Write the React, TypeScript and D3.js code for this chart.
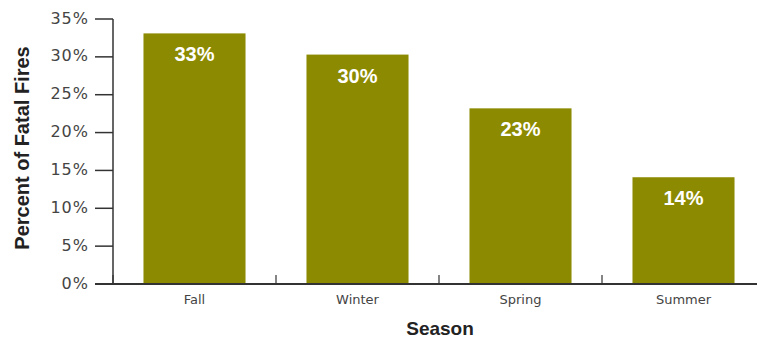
import React from "react";
import * as d3 from "d3";

const categories = ["Fall", "Winter", "Spring", "Summer"];
const values = [33.1, 30.3, 23.2, 14.1];
const valueLabels = ["33%", "30%", "23%", "14%"];
const yTicks = [0, 5, 10, 15, 20, 25, 30, 35];

const W = 757;
const H = 339;

export default function App() {
  const x = d3
    .scaleBand<string>()
    .domain(categories)
    .range([113, 765])
    .paddingInner(0.374)
    .paddingOuter(0.187);
  const y = d3.scaleLinear().domain([0, 35]).range([284, 19]);
  const step = x.step();
  const boundaries = categories.map((_, i) => 113 + i * step);

  return (
    <svg
      width={W}
      height={H}
      style={{ position: "absolute", left: 0, top: 0, background: "#fff" }}
    >
      {categories.map((c, i) => (
        <rect
          key={c}
          x={x(c)}
          y={y(values[i])}
          width={x.bandwidth()}
          height={y(0) - y(values[i])}
          fill="#8C8A00"
        />
      ))}
      {categories.map((c, i) => (
        <text
          key={"v" + c}
          x={(x(c) as number) + x.bandwidth() / 2}
          y={y(values[i]) + 28}
          textAnchor="middle"
          fill="#fff"
          fontFamily="Liberation Sans, Arial, sans-serif"
          fontWeight="bold"
          fontSize={20}
        >
          {valueLabels[i]}
        </text>
      ))}
      {/* y axis */}
      <line x1={113} x2={113} y1={y(35)} y2={y(0)} stroke="#333" strokeWidth={1.5} />
      {yTicks.map((t) => (
        <g key={t}>
          <line x1={95} x2={113} y1={y(t)} y2={y(t)} stroke="#333" strokeWidth={1.5} />
          <text
            x={89}
            y={y(t)}
            textAnchor="end"
            dominantBaseline="middle"
            fill="#444"
            fontFamily="DejaVu Sans, sans-serif"
            fontSize={16}
            letterSpacing={1}
          >
            {t + "%"}
          </text>
        </g>
      ))}
      {/* x axis */}
      <line x1={95} x2={W} y1={y(0)} y2={y(0)} stroke="#333" strokeWidth={2} />
      {boundaries.map((b, i) => (
        <line key={"b" + i} x1={b} x2={b} y1={y(0)} y2={y(0) - 9} stroke="#333" strokeWidth={1.2} />
      ))}
      {categories.map((c) => (
        <text
          key={"c" + c}
          x={(x(c) as number) + x.bandwidth() / 2}
          y={304}
          textAnchor="middle"
          fill="#444"
          fontFamily="DejaVu Sans, sans-serif"
          fontSize={13}
        >
          {c}
        </text>
      ))}
      <text
        x={440}
        y={335}
        textAnchor="middle"
        fill="#222"
        fontFamily="Liberation Sans, Arial, sans-serif"
        fontWeight="bold"
        fontSize={19}
      >
        Season
      </text>
      <text
        transform="translate(29,148) rotate(-90)"
        textAnchor="middle"
        fill="#222"
        fontFamily="Liberation Sans, Arial, sans-serif"
        fontWeight="bold"
        fontSize={20}
      >
        Percent of Fatal Fires
      </text>
    </svg>
  );
}
